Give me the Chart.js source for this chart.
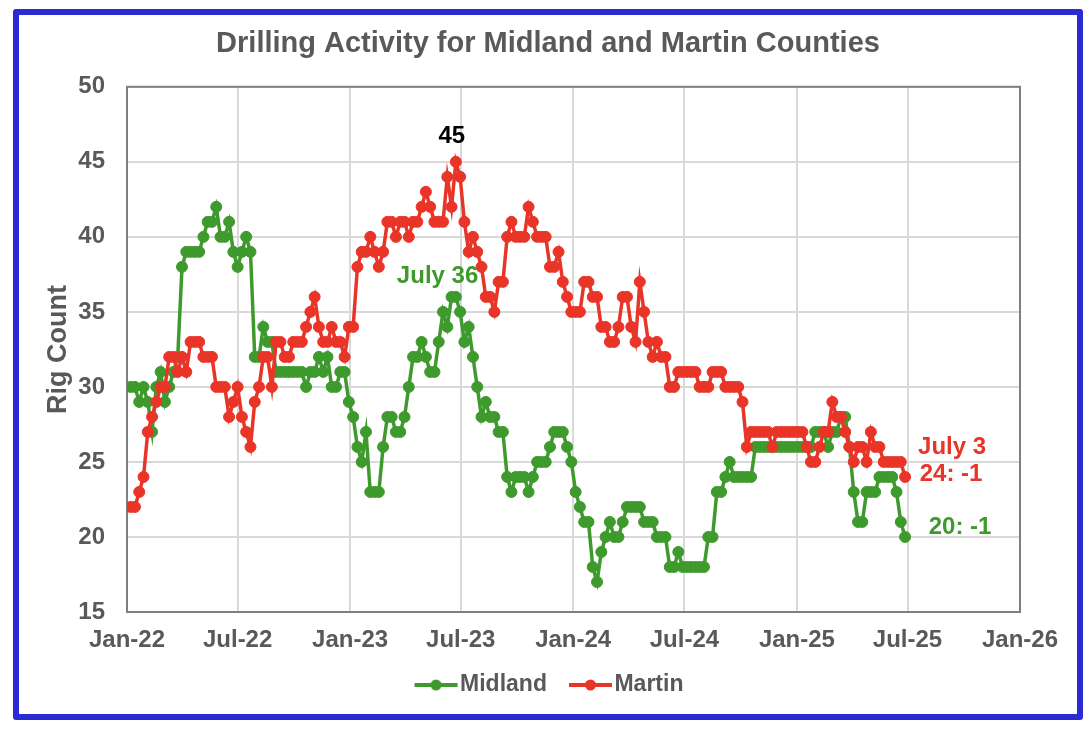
<!DOCTYPE html>
<html>
<head>
<meta charset="utf-8">
<script src="https://cdn.jsdelivr.net/npm/chart.js@4.4.1/dist/chart.umd.min.js"></script>
<style>
  html, body { margin: 0; padding: 0; background: #fff; }
  #wrap { position: relative; width: 1092px; height: 732px; }
  #frame { position: absolute; left: 13px; top: 9px; width: 1070px; height: 711px; box-sizing: border-box; border: 6px solid #2b2bd6; border-radius: 3px; pointer-events: none; }
</style>
</head>
<body>
<div id="wrap">
  <canvas id="chart" width="1092" height="732"></canvas>
  <div id="frame"></div>
</div>
<script>
// weekly rig counts, first reading on this date, one value per week
const firstWeek = '2022-01-07';

const midland = [
  30, 30, 29, 30, 29, 27, 30, 31, 29, 30,
  31, 32, 38, 39, 39, 39, 39, 40, 41, 41,
  42, 40, 40, 41, 39, 38, 39, 40, 39, 32,
  32, 34, 33, 33, 31, 31, 31, 31, 31, 31,
  31, 30, 31, 31, 32, 31, 32, 30, 30, 31,
  31, 29, 28, 26, 25, 27, 23, 23, 23, 26,
  28, 28, 27, 27, 28, 30, 32, 32, 33, 32,
  31, 31, 33, 35, 34, 36, 36, 35, 33, 34,
  32, 30, 28, 29, 28, 28, 27, 27, 24, 23,
  24, 24, 24, 23, 24, 25, 25, 25, 26, 27,
  27, 27, 26, 25, 23, 22, 21, 21, 18, 17,
  19, 20, 21, 20, 20, 21, 22, 22, 22, 22,
  21, 21, 21, 20, 20, 20, 18, 18, 19, 18,
  18, 18, 18, 18, 18, 20, 20, 23, 23, 24,
  25, 24, 24, 24, 24, 24, 26, 26, 26, 26,
  26, 26, 26, 26, 26, 26, 26, 26, 26, 26,
  27, 27, 27, 26, 27, 27, 28, 28, 26, 23,
  21, 21, 23, 23, 23, 24, 24, 24, 24, 23,
  21, 20
];

const martin = [
  22, 22, 23, 24, 27, 28, 29, 30, 30, 32,
  32, 31, 32, 31, 33, 33, 33, 32, 32, 32,
  30, 30, 30, 28, 29, 30, 28, 27, 26, 29,
  30, 32, 32, 30, 33, 33, 32, 32, 33, 33,
  33, 34, 35, 36, 34, 33, 33, 34, 33, 33,
  32, 34, 34, 38, 39, 39, 40, 39, 38, 39,
  41, 41, 40, 41, 41, 40, 41, 41, 42, 43,
  42, 41, 41, 41, 44, 42, 45, 44, 41, 39,
  40, 39, 38, 36, 36, 35, 37, 37, 40, 41,
  40, 40, 40, 42, 41, 40, 40, 40, 38, 38,
  39, 37, 36, 35, 35, 35, 37, 37, 36, 36,
  34, 34, 33, 33, 34, 36, 36, 34, 33, 37,
  35, 33, 32, 33, 32, 32, 30, 30, 31, 31,
  31, 31, 31, 30, 30, 30, 31, 31, 31, 30,
  30, 30, 30, 29, 26, 27, 27, 27, 27, 27,
  26, 27, 27, 27, 27, 27, 27, 27, 26, 25,
  25, 26, 27, 27, 29, 28, 28, 27, 26, 25,
  26, 26, 25, 27, 26, 26, 25, 25, 25, 25,
  25, 24
];

const tickDates = ['2022-01-01', '2022-07-01', '2023-01-01', '2023-07-01', '2024-01-01',
  '2024-07-01', '2025-01-01', '2025-07-01', '2026-01-01'];
const tickLabels = ['Jan-22', 'Jul-22', 'Jan-23', 'Jul-23', 'Jan-24',
  'Jul-24', 'Jan-25', 'Jul-25', 'Jan-26'];

const GREEN = '#3e9a2c';
const RED = '#e93428';
const GREY = '#595959';

// text notes, anchored on a data point of a series
const notes = [
  { text: '45', color: '#000000', series: 'martin', index: 76, dx: -4, dy: -25 },
  { text: 'July 36', color: GREEN, series: 'midland', index: 75, dx: -14, dy: -21 },
  { text: 'July 3', color: RED, series: 'martin', index: 181, dx: 47, dy: -30 },
  { text: '24: -1', color: RED, series: 'martin', index: 181, dx: 46, dy: -3 },
  { text: '20: -1', color: GREEN, series: 'midland', index: 181, dx: 55, dy: -10 },
];

// days since 1 Jan 2022
function dayNum(s) {
  const [y, m, d] = s.split('-').map(Number);
  return (Date.UTC(y, m - 1, d) - Date.UTC(2022, 0, 1)) / 864e5;
}
const weekDays = midland.map((_, i) => dayNum(firstWeek) + 7 * i);
const tickDays = tickDates.map(dayNum);

// line + dot legend symbol, drawn right-heavy so it sits close to the text
function legendIcon(color) {
  const c = document.createElement('canvas');
  c.width = 56; c.height = 14;
  const g = c.getContext('2d');
  g.strokeStyle = color; g.lineWidth = 4;
  g.beginPath(); g.moveTo(12, 7); g.lineTo(55, 7); g.stroke();
  g.fillStyle = color;
  g.beginPath(); g.arc(33.5, 7, 5.5, 0, Math.PI * 2); g.fill();
  return c;
}
const icons = [legendIcon(GREEN), legendIcon(RED)];

const plotBorder = {
  id: 'plotBorder',
  beforeDatasetsDraw(chart) {
    const { ctx, chartArea: a } = chart;
    ctx.save();
    ctx.strokeStyle = '#7f7f7f';
    ctx.lineWidth = 2;
    ctx.strokeRect(a.left, a.top, a.right - a.left, a.bottom - a.top);
    ctx.restore();
  }
};

const notesPlugin = {
  id: 'notes',
  afterDatasetsDraw(chart) {
    const { ctx, scales: { x, y } } = chart;
    ctx.save();
    ctx.font = 'bold 24px "Liberation Sans", Arial, sans-serif';
    ctx.textAlign = 'center';
    ctx.textBaseline = 'middle';
    notes.forEach((n) => {
      const vals = n.series === 'midland' ? midland : martin;
      const px = x.getPixelForValue(weekDays[n.index]) + n.dx;
      const py = y.getPixelForValue(vals[n.index]) + n.dy;
      ctx.fillStyle = n.color;
      ctx.fillText(n.text, px, py);
    });
    ctx.restore();
  }
};

Chart.defaults.font.family = '"Liberation Sans", Arial, sans-serif';
Chart.defaults.font.weight = 'bold';
Chart.defaults.color = GREY;

const ctx = document.getElementById('chart').getContext('2d');

new Chart(ctx, {
  type: 'line',
  data: {
    datasets: [
      {
        label: 'Midland',
        data: midland.map((v, i) => ({ x: weekDays[i], y: v })),
        borderColor: GREEN,
        backgroundColor: GREEN,
        pointBackgroundColor: GREEN,
        pointBorderColor: GREEN,
        borderWidth: 3.5,
        pointRadius: 5.5,
        pointBorderWidth: 1,
        tension: 0,
        order: 1,
      },
      {
        label: 'Martin',
        data: martin.map((v, i) => ({ x: weekDays[i], y: v })),
        borderColor: RED,
        backgroundColor: RED,
        pointBackgroundColor: RED,
        pointBorderColor: RED,
        borderWidth: 3.5,
        pointRadius: 5.5,
        pointBorderWidth: 1,
        tension: 0,
        order: 0,
      },
    ],
  },
  options: {
    responsive: false,
    animation: false,
    devicePixelRatio: 1,
    layout: {
      padding: { left: 22, right: 18, top: 20, bottom: 25.5 },
    },
    plugins: {
      title: {
        display: true,
        text: 'Drilling Activity for Midland and Martin Counties',
        color: GREY,
        font: { size: 29, weight: 'bold' },
        padding: { top: 7, bottom: 25 },
      },
      legend: {
        position: 'bottom',
        reverse: true,
        labels: {
          usePointStyle: true,
          pointStyleWidth: 36,
          padding: 20,
          color: GREY,
          font: { size: 23, weight: 'bold' },
          generateLabels(chart) {
            const items = Chart.defaults.plugins.legend.labels.generateLabels(chart);
            items.forEach((it) => { it.pointStyle = icons[it.datasetIndex]; });
            return items;
          },
        },
      },
      tooltip: { enabled: false },
    },
    scales: {
      x: {
        type: 'linear',
        min: 0,
        max: tickDays[tickDays.length - 1],
        afterBuildTicks(scale) {
          scale.ticks = tickDays.map((v) => ({ value: v }));
        },
        afterFit(scale) { scale.height = 41.5; },
        ticks: {
          autoSkip: false,
          maxRotation: 0,
          padding: 14,
          color: GREY,
          font: { size: 24, weight: 'bold' },
          callback(value) {
            const k = tickDays.indexOf(value);
            return k >= 0 ? tickLabels[k] : '';
          },
        },
        grid: { color: '#d9d9d9', lineWidth: 2, drawTicks: false },
        border: { display: false },
      },
      y: {
        min: 15,
        max: 50,
        afterFit(scale) { scale.width = 105; },
        ticks: {
          stepSize: 5,
          padding: 22,
          color: GREY,
          font: { size: 24, weight: 'bold' },
        },
        grid: { color: '#d9d9d9', lineWidth: 2, drawTicks: false },
        border: { display: false },
        title: {
          display: true,
          text: 'Rig Count',
          color: GREY,
          font: { size: 27, weight: 'bold' },
          padding: { top: 20, bottom: 0 },
        },
      },
      yRight: {
        position: 'right',
        display: true,
        afterFit(scale) { scale.width = 54; },
        ticks: { display: false },
        grid: { display: false },
        border: { display: false },
      },
    },
  },
  plugins: [plotBorder, notesPlugin],
});
</script>
</body>
</html>
